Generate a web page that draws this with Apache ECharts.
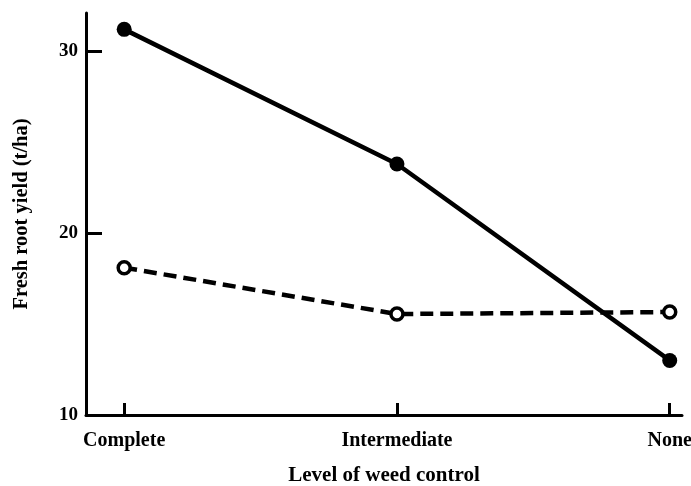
<!DOCTYPE html>
<html><head><meta charset="utf-8">
<script src="https://cdn.jsdelivr.net/npm/echarts@6/dist/echarts.min.js"></script>
<style>html,body{margin:0;padding:0;background:#fff}#c{width:691px;height:486px}</style>
</head><body><div id="c"></div>
<script>
const categories = ['Complete', 'Intermediate', 'None'];
const solidValues = [31.2, 23.8, 13.0];
const dashedValues = [18.1, 15.55, 15.66];
const yTicks = [10, 20, 30];

const font = 'Liberation Serif';
const chart = echarts.init(document.getElementById('c'), null, {renderer: 'canvas'});
const toPts = vals => vals.map((v, i) => [i, v]);
chart.setOption({
  animation: false,
  backgroundColor: '#fff',
  grid: {left: 86, right: 9, top: 13, bottom: 71, containLabel: false, outerBoundsMode: 'none'},
  xAxis: {
    type: 'value', min: -0.14, max: 2.045,
    name: 'Level of weed control', nameLocation: 'middle', nameGap: 50,
    nameTextStyle: {fontFamily: font, fontSize: 21, fontWeight: 'bold', color: '#000'},
    axisLine: {show: true, onZero: false, lineStyle: {color: '#000', width: 3}},
    axisTick: {show: true, inside: true, length: 12, lineStyle: {color: '#000', width: 3}, customValues: [0, 1, 2]},
    axisLabel: {customValues: [0, 1, 2], margin: 16, fontFamily: font, fontSize: 20, fontWeight: 'bold', color: '#000',
      formatter: v => categories[Math.round(v)]},
    splitLine: {show: false}
  },
  yAxis: {
    type: 'value', min: 10, max: 32.1,
    name: 'Fresh root yield (t/ha)', nameLocation: 'middle', nameGap: 54,
    nameTextStyle: {fontFamily: font, fontSize: 20.5, fontWeight: 'bold', color: '#000'},
    axisLine: {show: true, onZero: false, lineStyle: {color: '#000', width: 3}},
    axisTick: {show: true, inside: true, length: 16, lineStyle: {color: '#000', width: 3}, customValues: yTicks},
    axisLabel: {customValues: yTicks, margin: 8, fontFamily: font, fontSize: 19, fontWeight: 'bold', color: '#000'},
    splitLine: {show: false}
  },
  series: [
    {type: 'line', data: toPts(solidValues), symbol: 'circle', symbolSize: 15,
      lineStyle: {color: '#000', width: 4.5}, itemStyle: {color: '#000', borderColor: '#000', borderWidth: 0}, z: 3},
    {type: 'line', data: toPts(dashedValues), symbol: 'circle', symbolSize: 12,
      lineStyle: {color: '#000', width: 4.5, type: [13, 7]}, itemStyle: {color: '#fff', borderColor: '#000', borderWidth: 3.5}, z: 4}
  ]
});
</script></body></html>
